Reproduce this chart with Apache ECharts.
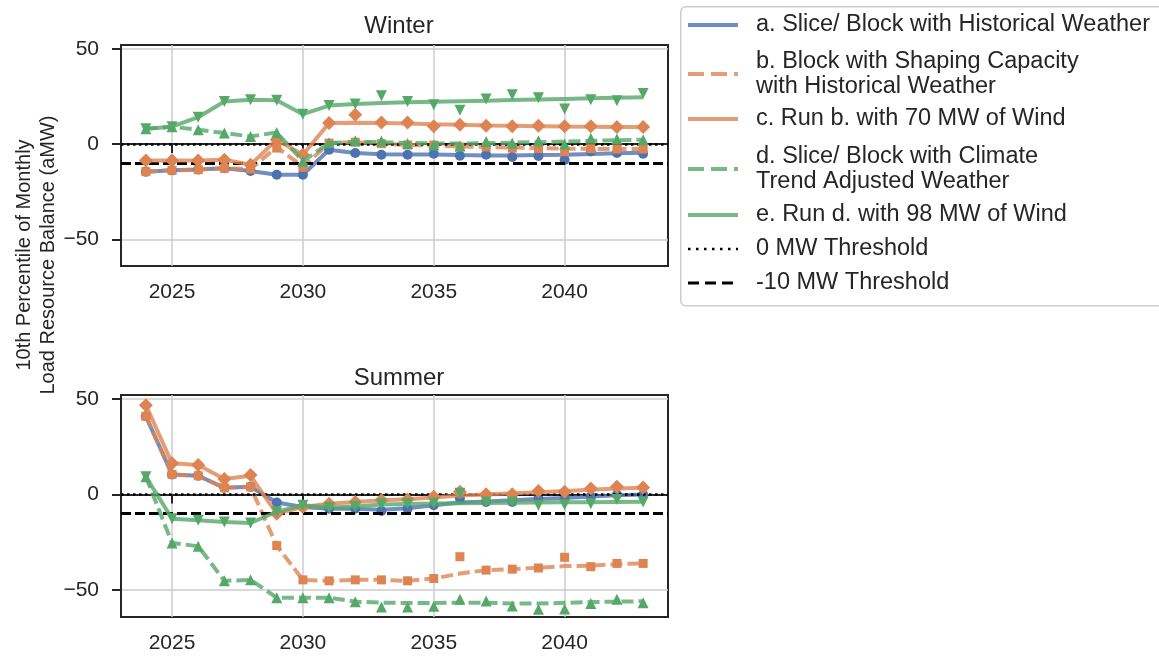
<!DOCTYPE html>
<html>
<head>
<meta charset="utf-8">
<script src="https://cdn.jsdelivr.net/npm/echarts@6/dist/echarts.min.js"></script>
<style>
  html, body { margin: 0; padding: 0; background: #ffffff; }
  #chart { width: 1159px; height: 659px; }
</style>
</head>
<body>
<div id="chart"></div>
<script>
// ---------------- data ----------------
const years = [2024,2025,2026,2027,2028,2029,2030,2031,2032,2033,2034,2035,2036,2037,2038,2039,2040,2041,2042,2043];
const xTicks = [2025, 2030, 2035, 2040];
const yTicks = [-50, 0, 50];
const thresholds = [0, -10];
const panelTitles = ['Winter', 'Summer'];
const yTitle = '10th Percentile of Monthly\nLoad Resource Balance (aMW)';
const legendLabels = [
  'a. Slice/ Block with Historical Weather',
  'b. Block with Shaping Capacity\nwith Historical Weather',
  'c. Run b. with 70 MW of Wind',
  'd. Slice/ Block with Climate\nTrend Adjusted Weather',
  'e. Run d. with 98 MW of Wind',
  '0 MW Threshold',
  '-10 MW Threshold'
];

// Winter: lines and point markers
const winterA_line = [-14.5,-13.8,-13.4,-12.7,-14.1,-16.1,-16.1,-3.0,-4.7,-5.4,-5.5,-5.5,-5.8,-6.0,-6.0,-5.8,-5.6,-5.2,-4.8,-4.5];
const winterA_pts  = [-14.5,-13.8,-13.4,-12.7,-14.1,-16.1,-16.1,-3.0,-4.7,-5.6,-5.6,-5.1,-6.1,-5.6,-6.8,-6.2,-8.3,-3.9,-4.7,-5.1];
const winterB_line = [-14.5,-13.8,-13.4,-12.7,-13.1,-1.5,-12.0,0.5,1.0,0.2,-0.5,-0.8,-1.2,-1.5,-1.8,-2.1,-2.4,-2.5,-2.6,-2.6];
const winterB_pts  = [-14.5,-13.8,-13.4,-12.7,-13.1,-2.1,-12.2,0.5,1.0,0.2,-0.5,-0.5,-1.5,-1.5,-2.1,-2.4,-4.0,-2.4,-2.6,-2.6];
const winterC_line = [-8.6,-8.6,-8.6,-8.2,-10.8,2.3,-5.6,11.0,11.2,11.1,10.8,10.4,10.1,9.8,9.6,9.4,9.2,9.1,9.0,9.0];
const winterC_pts  = [-8.6,-8.6,-8.6,-8.2,-10.8,2.3,-5.6,11.0,15.4,11.3,11.3,9.3,10.1,9.6,9.3,9.6,9.3,9.3,9.0,9.0];
const winterD_line = [8.0,9.1,7.5,5.8,4.0,6.1,-9.0,0.5,1.2,1.0,0.6,0.3,0.3,0.4,0.7,1.0,1.3,1.7,2.0,2.3];
const winterD_pts  = [8.0,9.1,7.5,5.8,4.0,6.1,-9.0,0.7,1.8,1.6,0.3,-0.5,-1.0,1.4,0.5,1.8,0.0,3.1,2.6,2.3];
const winterE_line = [8.0,9.1,14.1,22.3,23.2,23.0,15.7,20.2,21.0,21.5,21.9,22.2,22.5,22.8,23.1,23.4,23.7,24.0,24.3,24.6];
const winterE_pts  = [8.0,9.1,14.1,22.3,23.2,23.0,15.7,20.2,21.0,25.4,22.4,20.6,17.7,23.7,25.9,24.3,18.4,23.2,22.8,26.5];

// Summer: lines and point markers
const summerA_line = [40.9,10.5,9.8,3.5,4.0,-4.2,-6.5,-7.4,-7.4,-8.0,-7.2,-5.6,-4.2,-3.6,-3.0,-2.4,-1.8,-1.0,-0.4,0.0];
const summerA_pts  = [40.9,10.5,9.8,3.5,4.0,-4.2,-6.5,-7.4,-7.4,-8.6,-7.4,-5.6,-2.1,-3.9,-3.9,-2.1,-1.8,-0.9,0.0,0.0];
const summerB_line = [40.9,10.5,9.8,3.5,4.0,-26.7,-44.6,-45.1,-44.6,-44.6,-45.1,-43.9,-41.3,-39.5,-39.0,-38.2,-37.4,-37.2,-36.3,-36.0];
const summerB_pts  = [40.9,10.5,9.8,3.5,4.0,-26.7,-44.6,-45.1,-44.6,-44.6,-45.1,-43.9,-32.5,-39.5,-39.0,-38.4,-32.8,-37.7,-36.0,-36.0];
const summerC_line = [46.7,16.3,15.4,8.1,9.8,-10.0,-6.5,-4.8,-3.9,-3.0,-2.5,-1.5,-0.5,0.0,0.6,1.2,1.8,2.5,3.2,3.5];
const summerC_pts  = [46.7,16.3,15.4,8.1,10.2,-10.0,-6.5,-4.8,-3.9,-3.0,-2.6,-1.2,1.4,0.1,0.1,1.9,1.4,3.1,4.0,3.7];
const summerD_line = [9.3,-25.3,-27.0,-45.1,-44.6,-53.9,-53.9,-53.9,-56.0,-56.5,-56.7,-56.7,-56.5,-56.5,-57.0,-57.0,-56.6,-56.2,-56.0,-55.8];
const summerD_pts  = [9.3,-25.3,-27.0,-45.1,-44.6,-53.9,-53.9,-53.9,-56.0,-58.8,-58.8,-58.4,-54.7,-55.6,-58.3,-60.0,-59.8,-57.0,-54.7,-56.5];
const summerE_line = [9.3,-12.6,-13.5,-14.4,-14.9,-9.0,-5.6,-6.8,-6.2,-5.2,-4.9,-4.7,-4.5,-4.4,-4.3,-4.2,-4.1,-4.0,-3.9,-3.8];
const summerE_pts  = [9.3,-12.6,-13.5,-14.4,-14.9,-9.0,-5.6,-6.8,-6.2,-4.8,-4.8,-4.5,0.6,-3.9,-3.9,-5.6,-5.3,-4.8,-2.6,-3.9];

// ---------------- styling ----------------
const FONT = 'Liberation Sans, Arial, Helvetica, sans-serif';
const TXT = '#262626';
const BLUE = '#4C72B0', ORANGE = '#DD8452', GREEN = '#55A868';
const DASH = [12, 5];

const styles = [
  { color: BLUE,   dashed: false, symbol: 'circle',   size: 10, rotate: 0 },
  { color: ORANGE, dashed: true,  symbol: 'rect',     size: 9,  rotate: 0 },
  { color: ORANGE, dashed: false, symbol: 'diamond',  size: 14, rotate: 0 },
  { color: GREEN,  dashed: true,  symbol: 'triangle', size: 11, rotate: 0 },
  { color: GREEN,  dashed: false, symbol: 'triangle', size: 11, rotate: 180 }
];

const panels = [
  { lines: [winterA_line, winterB_line, winterC_line, winterD_line, winterE_line],
    pts:   [winterA_pts,  winterB_pts,  winterC_pts,  winterD_pts,  winterE_pts] },
  { lines: [summerA_line, summerB_line, summerC_line, summerD_line, summerE_line],
    pts:   [summerA_pts,  summerB_pts,  summerC_pts,  summerD_pts,  summerE_pts] }
];

const gridBox = [
  { left: 121, top: 45, width: 547, height: 221 },
  { left: 121, top: 395, width: 547, height: 222 }
];

const fmtMinus = v => (v < 0 ? '\u2212' + Math.abs(v) : String(v));

const grids = gridBox.map(g => Object.assign({
  show: true, borderColor: TXT, borderWidth: 2, backgroundColor: 'transparent'
}, g));

const xAxes = gridBox.map((g, i) => ({
  type: 'value', gridIndex: i, min: 2023.05, max: 2043.95,
  axisLine: { show: true, lineStyle: { color: TXT, width: 2 } },
  axisTick: { show: true, customValues: xTicks, length: 9, lineStyle: { color: TXT, width: 2 } },
  axisLabel: { customValues: xTicks, fontSize: 21, color: TXT, fontFamily: FONT, margin: 16,
               formatter: v => String(v) },
  splitLine: { show: true, lineStyle: { color: '#cccccc', width: 1.5 } }
}));

const yAxes = gridBox.map((g, i) => ({
  type: 'value', gridIndex: i, min: -64, max: 52,
  axisLine: { show: true, lineStyle: { color: TXT, width: 2 } },
  axisTick: { show: true, customValues: yTicks, length: 9, lineStyle: { color: TXT, width: 2 } },
  axisLabel: { customValues: yTicks, fontSize: 21, color: TXT, fontFamily: FONT, margin: 22,
               formatter: fmtMinus },
  splitLine: { show: true, lineStyle: { color: '#cccccc', width: 1.5 } }
}));

const series = [];
panels.forEach((p, gi) => {
  styles.forEach((s, si) => {
    series.push({
      type: 'line', xAxisIndex: gi, yAxisIndex: gi,
      data: years.map((y, k) => [y, p.lines[si][k]]),
      showSymbol: false, symbol: 'none', silent: true,
      lineStyle: { color: s.color, width: 4, opacity: 0.8, type: s.dashed ? DASH : 'solid' },
      z: 2 + si * 2, animation: false
    });
    series.push({
      type: 'scatter', xAxisIndex: gi, yAxisIndex: gi,
      data: years.map((y, k) => [y, p.pts[si][k]]),
      symbol: s.symbol, symbolSize: s.size, symbolRotate: s.rotate,
      itemStyle: { color: s.color, opacity: 1 }, silent: true,
      z: 3 + si * 2, animation: false
    });
  });
  series.push({
    type: 'line', xAxisIndex: gi, yAxisIndex: gi, data: [], z: 20, animation: false,
    markLine: {
      silent: true, symbol: ['none', 'none'], animation: false,
      label: { show: false },
      data: [
        { yAxis: thresholds[0], lineStyle: { color: '#000', width: 2.5, type: [2.5, 3.5] } },
        { yAxis: thresholds[1], lineStyle: { color: '#000', width: 3, type: [10, 4] } }
      ]
    }
  });
});

// ---------------- legend (graphic) ----------------
const legRows = [25, 74, 119, 169, 215, 249, 283];
const legStyles = [
  { color: BLUE, dash: null, width: 4 },
  { color: ORANGE, dash: [16, 7], width: 4 },
  { color: ORANGE, dash: null, width: 4 },
  { color: GREEN, dash: [16, 7], width: 4 },
  { color: GREEN, dash: null, width: 4 },
  { color: '#000', dash: [2.5, 5.5], width: 2.5 },
  { color: '#000', dash: [11, 6], width: 2.8 }
];
const legendGraphics = [{
  type: 'rect', left: 680, top: 6, z: 50,
  shape: { width: 490, height: 299, r: 5 },
  style: { fill: 'rgba(255,255,255,0.85)', stroke: '#cccccc', lineWidth: 1.5 }
}];
legendLabels.forEach((lab, i) => {
  const st = legStyles[i];
  legendGraphics.push({
    type: 'line', z: 51,
    shape: { x1: 688, y1: legRows[i], x2: 738, y2: legRows[i] },
    style: { stroke: st.color, lineWidth: st.width, lineDash: st.dash, opacity: i < 5 ? 0.8 : 1 }
  });
  legendGraphics.push({
    type: 'text', z: 51, x: 756, y: legRows[i],
    style: { text: lab, fill: TXT, font: '23.5px ' + FONT, textAlign: 'left',
             textVerticalAlign: 'middle', lineHeight: 25 }
  });
});

const option = {
  animation: false,
  backgroundColor: '#ffffff',
  title: [
    { text: panelTitles[0], left: 394, top: 9, textAlign: 'center',
      textStyle: { fontSize: 24, fontWeight: 'normal', color: TXT, fontFamily: FONT } },
    { text: panelTitles[1], left: 394, top: 361, textAlign: 'center',
      textStyle: { fontSize: 24, fontWeight: 'normal', color: TXT, fontFamily: FONT } }
  ],
  grid: grids,
  xAxis: xAxes,
  yAxis: yAxes,
  series: series,
  graphic: [
    {
      type: 'text', x: 36, y: 255, rotation: Math.PI / 2, z: 50,
      style: { text: yTitle, fill: TXT, font: '20px ' + FONT, textAlign: 'center',
               textVerticalAlign: 'middle', lineHeight: 24 }
    }
  ].concat(legendGraphics)
};

const chart = echarts.init(document.getElementById('chart'), null, { renderer: 'canvas' });
chart.setOption(option);
</script>
</body>
</html>
